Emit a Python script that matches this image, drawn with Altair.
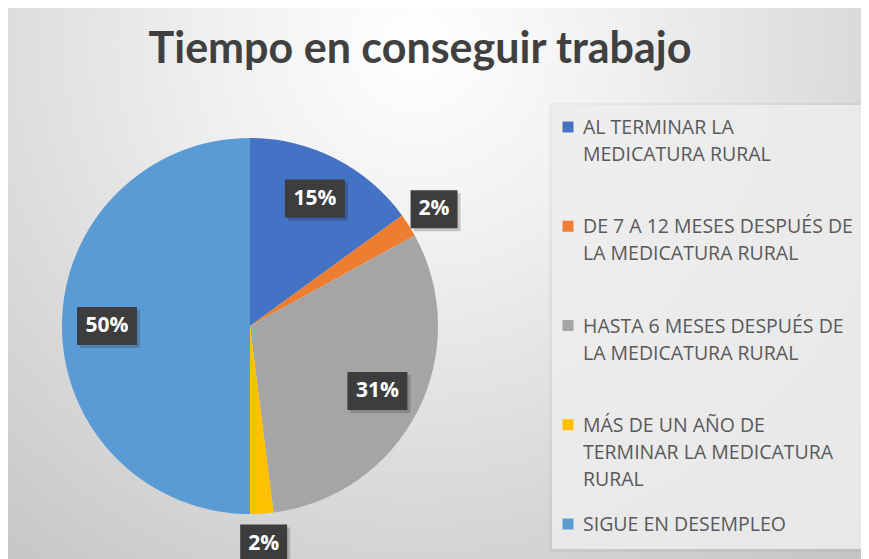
import altair as alt
import pandas as pd

title_text = "Tiempo en conseguir trabajo"
categories = [
    "AL TERMINAR LA MEDICATURA RURAL",
    "DE 7 A 12 MESES DESPUÉS DE LA MEDICATURA RURAL",
    "HASTA 6 MESES DESPUÉS DE LA MEDICATURA RURAL",
    "MÁS DE UN AÑO DE TERMINAR LA MEDICATURA RURAL",
    "SIGUE EN DESEMPLEO",
]
legend_lines = [
    "AL TERMINAR LA\nMEDICATURA RURAL",
    "DE 7 A 12 MESES DESPUÉS DE\nLA MEDICATURA RURAL",
    "HASTA 6 MESES DESPUÉS DE\nLA MEDICATURA RURAL",
    "MÁS DE UN AÑO DE\nTERMINAR LA MEDICATURA\nRURAL",
    "SIGUE EN DESEMPLEO",
]
percentages = [15, 2, 31, 2, 50]
colors = ["#4472C4", "#ED7D31", "#A5A5A5", "#FFC000", "#5B9BD5"]

W, H = 853, 551
CX, CY, R = 242, 318, 188

df = pd.DataFrame({
    "cat": categories,
    "legend": legend_lines,
    "pct": percentages,
    "idx": list(range(len(categories))),
    "label": [f"{p}%" for p in percentages],
})
one = pd.DataFrame({"t": [title_text]})

color = alt.Color("cat:N", scale=alt.Scale(domain=categories, range=colors), legend=None)

bg = alt.Chart(one).mark_rect(
    fill=alt.RadialGradient(
        gradient="radial",
        x1=0.48, y1=0.22, r1=0.0,
        x2=0.48, y2=0.22, r2=0.8,
        stops=[
            alt.GradientStop(color="#ffffff", offset=0),
            alt.GradientStop(color="#f0f0f0", offset=0.3),
            alt.GradientStop(color="#c4c4c4", offset=1),
        ],
    )
).encode(x=alt.value(0), x2=alt.value(W), y=alt.value(0), y2=alt.value(H))

legend_shadow = alt.Chart(one).mark_rect(fill="#000000", opacity=0.04).encode(
    x=alt.value(541), x2=alt.value(W), y=alt.value(95), y2=alt.value(544)
)
legend_box = alt.Chart(one).mark_rect(fill="#eeeeee", opacity=0.85).encode(
    x=alt.value(544), x2=alt.value(W), y=alt.value(97), y2=alt.value(541)
)

title = alt.Chart(one).mark_text(
    font="Lato", fontSize=43, fontWeight="bold", color="#404040",
    align="center", baseline="alphabetic"
).encode(x=alt.value(412), y=alt.value(55), text="t:N")

base = alt.Chart(df)

pie = base.mark_arc(outerRadius=R).encode(
    theta=alt.Theta("pct:Q", stack=True),
    color=color,
    order=alt.Order("idx:Q"),
    x=alt.value(CX),
    y=alt.value(CY),
)

lab_base = base.transform_window(
    cum="sum(pct)", sort=[alt.SortField("idx")], frame=[None, 0]
).transform_joinaggregate(
    total="sum(pct)"
).transform_calculate(
    ang="2*PI*(datum.cum - datum.pct/2)/datum.total",
    lr="datum.pct > 5 ? 143 : 218",
).transform_calculate(
    lx=f"{CX} + datum.lr*sin(datum.ang)",
    ly=f"{CY} - datum.lr*cos(datum.ang)",
    hw="(13*length(datum.label)+21)/2",
).transform_calculate(
    bx1="datum.lx - datum.hw",
    bx2="datum.lx + datum.hw",
    by1="datum.ly - 19",
    by2="datum.ly + 19",
    sx1="datum.lx - datum.hw + 3",
    sx2="datum.lx + datum.hw + 3",
    sy1="datum.ly - 16",
    sy2="datum.ly + 22",
)

lab_shadow = lab_base.mark_rect(color="#000000", opacity=0.18).encode(
    x=alt.X("sx1:Q", scale=None, axis=None), x2="sx2:Q",
    y=alt.Y("sy1:Q", scale=None, axis=None), y2="sy2:Q",
)
lab_box = lab_base.mark_rect(color="#3d3d3d").encode(
    x=alt.X("bx1:Q", scale=None, axis=None), x2="bx2:Q",
    y=alt.Y("by1:Q", scale=None, axis=None), y2="by2:Q",
)
lab_text = lab_base.mark_text(
    font="Open Sans", fontSize=21, fontWeight="bold", color="#ffffff",
    align="center", baseline="middle"
).encode(
    x=alt.X("lx:Q", scale=None, axis=None),
    y=alt.Y("ly:Q", scale=None, axis=None),
    text="label:N",
)

leg_y = alt.Y("cat:N", scale=alt.Scale(type="point", domain=categories, range=[119, 516], padding=0), axis=None)

leg_sq = base.mark_point(shape="square", filled=True, size=121, opacity=1).encode(
    x=alt.value(560), y=leg_y, color=color
)
leg_tx = base.mark_text(
    align="left", baseline="alphabetic", dy=7, lineBreak="\n", lineHeight=27,
    font="Open Sans", fontSize=19.5, color="#595959"
).encode(x=alt.value(575), y=leg_y, text="legend:N")

chart = alt.layer(
    bg, legend_shadow, legend_box, title, pie, lab_shadow, lab_box, lab_text, leg_sq, leg_tx
).resolve_scale(
    x="independent", y="independent"
).properties(
    width=W, height=H, padding=0, autosize=alt.AutoSizeParams(type="none")
).configure_view(stroke=None)

chart.save("out.html", embed_options={"renderer": "svg", "actions": False})
